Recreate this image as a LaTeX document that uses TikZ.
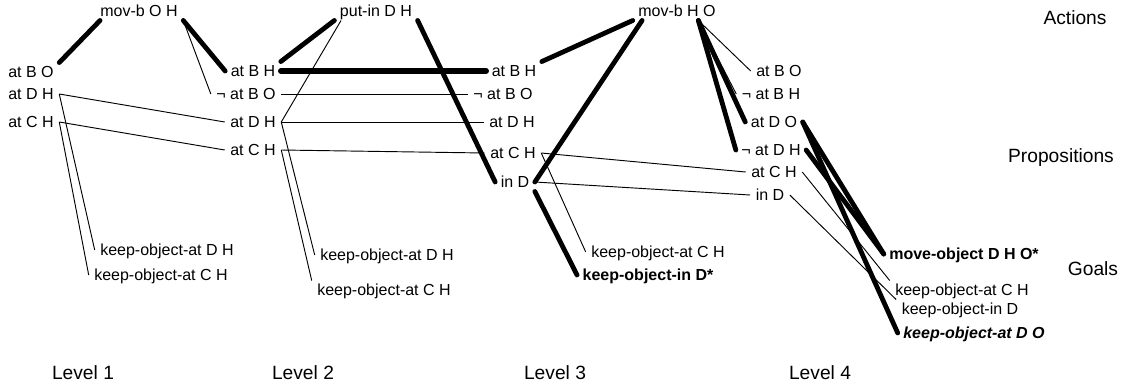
\documentclass[tikz,border=0pt]{standalone}
\usepackage{fontspec}
\setmainfont{Liberation Sans}
\begin{document}
\begin{tikzpicture}[x=0.75pt,y=-0.75pt,
  prop/.style={inner xsep=4pt,inner ysep=2.6pt,text height=8.6pt,text depth=0pt,font=\fontsize{12}{14}\selectfont},
  lbl/.style={inner sep=0pt,font=\fontsize{14.4}{17}\selectfont},
  weak/.style={line width=0.7pt},
  strong/.style={line width=3.6pt,line cap=round}]
\useasboundingbox(0,0)rectangle(1123,390);
%
% level 1
\node[prop](mvA)at(139,11){mov-b O H};
\node[prop](atBOa)at(31,72){at B O};
\node[prop](atDHa)at(31,94){at D H};
\node[prop](atCHa)at(31,122){at C H};
\node[prop](kDHa)at(167,250){keep-object-at D H};
\node[prop](kCHa)at(161,275){keep-object-at C H};
\node[lbl](lvA)at(83,373){Level 1};
% level 2
\node[prop](putB)at(376,11){put-in D H};
\node[prop](atBHb)at(253,71){at B H};
\node[prop](nBOb)at(246,94){¬ at B O};
\node[prop](atDHb)at(253,122){at D H};
\node[prop](atCHb)at(253,150){at C H};
\node[prop](kDHb)at(387,255){keep-object-at D H};
\node[prop](kCHb)at(384,290){keep-object-at C H};
\node[lbl](lvB)at(303,373){Level 2};
% level 3
\node[prop](mvC)at(677,11){mov-b H O};
\node[prop](atBHc)at(514,71){at B H};
\node[prop](nBOc)at(503,94){¬ at B O};
\node[prop](atDHc)at(512,122){at D H};
\node[prop](atCHc)at(513,153){at C H};
\node[prop](inDc)at(515,182){in D};
\node[prop](kCHc)at(658,252){keep-object-at C H};
\node[prop,font=\fontsize{12}{14}\selectfont\bfseries](kInDc)at(648,275){keep-object-in D*};
\node[lbl](lvC)at(555,373){Level 3};
% level 4
\node[prop](atBOd)at(779,71){at B O};
\node[prop](nBHd)at(771,94){¬ at B H};
\node[prop](atDOd)at(774,122){at D O};
\node[prop](nDHd)at(771,150){¬ at D H};
\node[prop](atCHd)at(774,172){at C H};
\node[prop](inDd)at(770,195){in D};
\node[prop,font=\fontsize{12}{14}\selectfont\bfseries](mvObjd)at(964,254){move-object D H O*};
\node[prop](kCHd)at(962,290){keep-object-at C H};
\node[prop](kInDd)at(960,309){keep-object-in D};
\node[prop,font=\fontsize{12}{14}\selectfont\bfseries\itshape](kDOd)at(974,333){keep-object-at D O};
\node[lbl](lvD)at(820,373){Level 4};
% rows
\node[lbl](rAct)at(1075,18){Actions};
\node[lbl](rProp)at(1061,158){Propositions};
\node[lbl](rGoal)at(1093,269){Goals};
%
\draw[strong]([xshift=4pt]mvA.south west)--(atBOa.north east);
\draw[strong](mvA.south east)--(atBHb.west);
\draw[weak](mvA.south east)--(nBOb.west);
\draw[weak](atDHa.east)--(atDHb.west);
\draw[weak](atCHa.east)--(atCHb.west);
\draw[weak](atDHa.east)--(kDHa.west);
\draw[weak](atCHa.east)--(kCHa.west);
%
\draw[strong](putB.south west)--(atBHb.north east);
\draw[weak]([xshift=5pt]putB.south west)--(atDHb.east);
\draw[strong](putB.south east)--(inDc.west);
\draw[strong,line width=4.2pt](atBHb.east)--(atBHc.west);
\draw[weak](nBOb.east)--(nBOc.west);
\draw[weak](atDHb.east)--(atDHc.west);
\draw[weak](atCHb.east)--(atCHc.west);
\draw[weak](atDHb.east)--(kDHb.west);
\draw[weak](atCHb.east)--(kCHb.north west);
%
\draw[strong](mvC.south west)--(atBHc.north east);
\draw[strong]([xshift=7pt]mvC.south west)--(inDc.east);
\draw[weak](atCHc.east)--(atCHd.west);
\draw[weak](inDc.east)--(inDd.west);
\draw[weak](atCHc.east)--(kCHc.west);
\draw[strong](inDc.south east)--(kInDc.west);
%
\draw[weak]([xshift=16pt]mvC.south)--(atBOd.west);
\draw[weak]([xshift=16pt]mvC.south)--(nBHd.west);
\draw[strong]([xshift=16pt]mvC.south)--(atDOd.west);
\draw[strong]([xshift=16pt]mvC.south)--(nDHd.west);
\draw[strong](atDOd.east)--(mvObjd.west);
\draw[strong](nDHd.east)--(mvObjd.west);
\draw[strong](atDOd.east)--(kDOd.west);
\draw[weak](atCHd.east)--(kCHd.north west);
\draw[weak](inDd.east)--(kInDd.north west);
\end{tikzpicture}
\end{document}
